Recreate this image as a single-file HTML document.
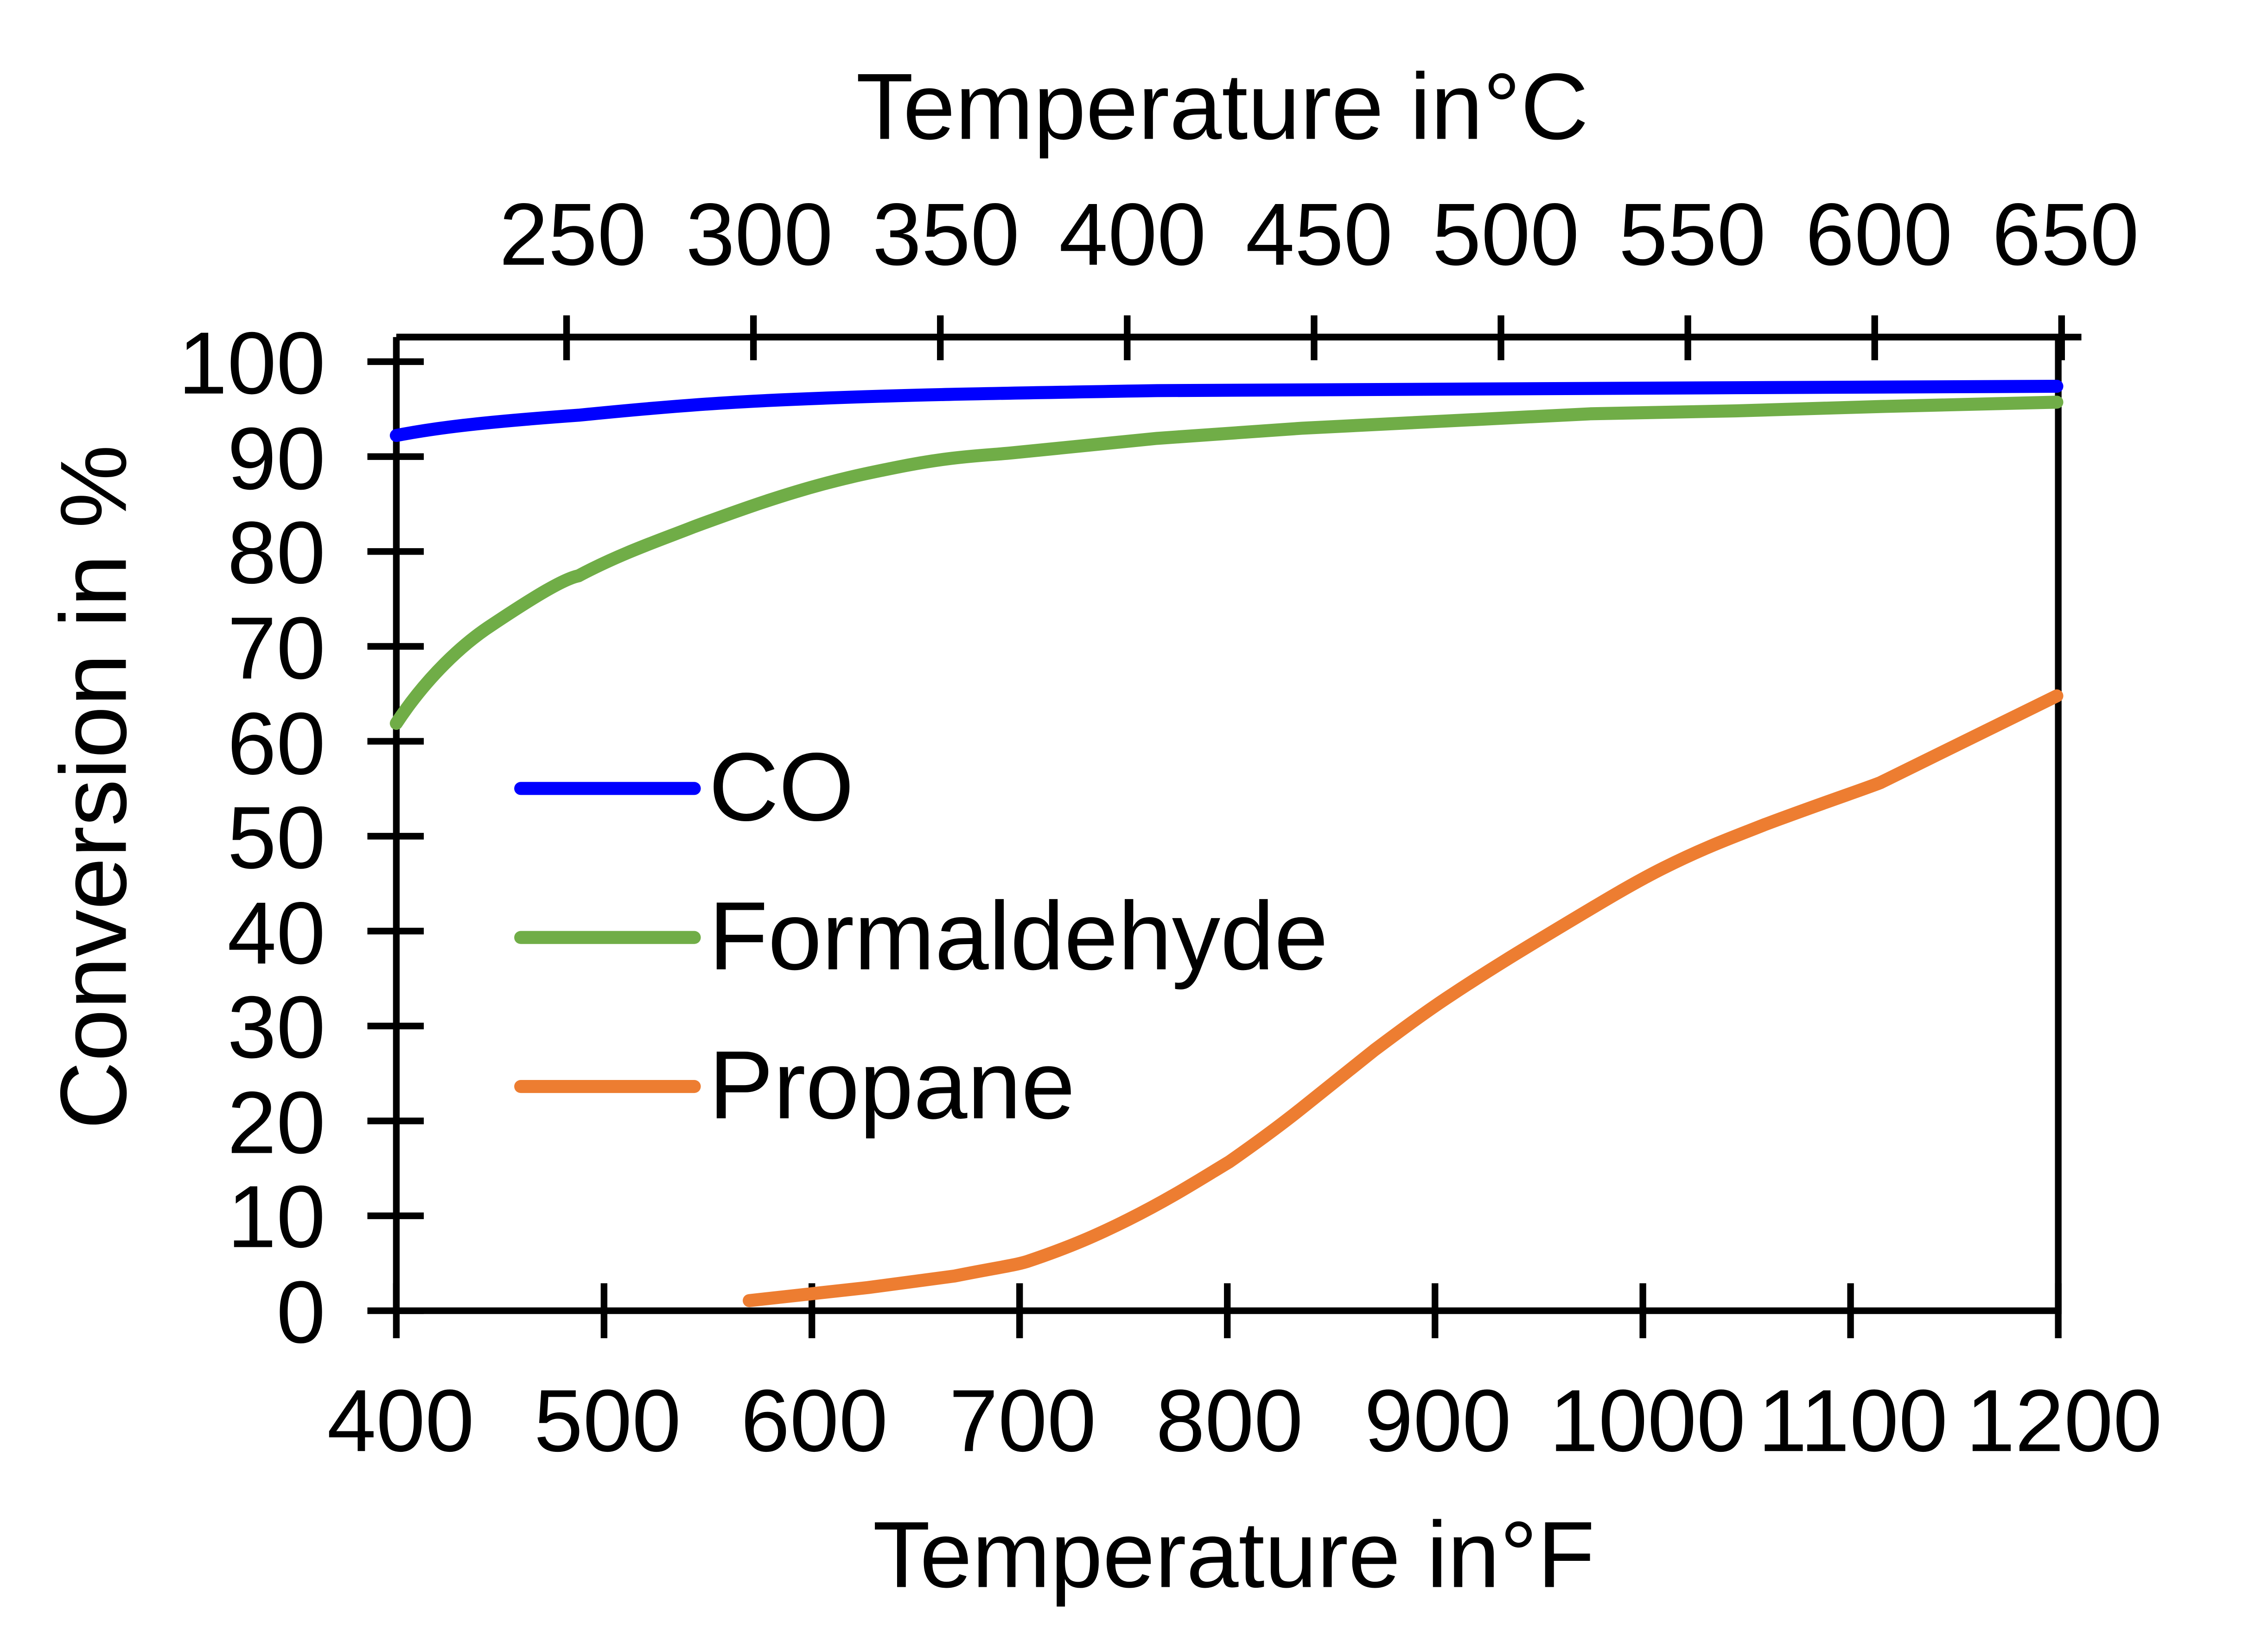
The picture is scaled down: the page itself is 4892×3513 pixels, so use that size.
<!DOCTYPE html>
<html><head><meta charset="utf-8"><style>html,body{margin:0;padding:0;background:#fff}svg{display:block}</style></head>
<body>
<svg width="4892" height="3513" viewBox="0 0 1568 1126" xmlns="http://www.w3.org/2000/svg" font-family="Liberation Sans, Arial, sans-serif" fill="#000">
<rect width="1568" height="1126" fill="#fff"/>
<g stroke="#000" stroke-width="4.6" fill="none">
<path d="M274,233 V906 H1423 V233 H274"/>
<path d="M274,233 H1439"/>
<path d="M254,906H293M254,840.4H293M254,774.8H293M254,709.2H293M254,643.6H293M254,578H293M254,512.4H293M254,446.8H293M254,381.2H293M254,315.6H293M254,250H293"/>
<path d="M274,887V925M417.6,887V925M561.3,887V925M704.9,887V925M848.5,887V925M992.1,887V925M1135.8,887V925M1279.4,887V925M1423,887V925"/>
<path d="M391.7,218V249M520.9,218V249M650.1,218V249M779.3,218V249M908.5,218V249M1037.7,218V249M1166.9,218V249M1296.1,218V249M1425.3,218V249"/>
</g>
<g font-size="61" text-anchor="end">
<text x="225" y="928">0</text><text x="225" y="862">10</text><text x="225" y="797">20</text><text x="225" y="731">30</text><text x="225" y="666">40</text><text x="225" y="600">50</text><text x="225" y="535">60</text><text x="225" y="469">70</text><text x="225" y="403">80</text><text x="225" y="338">90</text><text x="225" y="272">100</text>
</g>
<g font-size="61" text-anchor="middle">
<text x="277" y="1003">400</text><text x="420" y="1003">500</text><text x="563" y="1003">600</text><text x="707" y="1003">700</text><text x="850" y="1003">800</text><text x="994" y="1003">900</text><text x="1139" y="1003">1000</text><text x="1281" y="1003">1100</text><text x="1427" y="1003">1200</text>
<text x="396" y="183">250</text><text x="525" y="183">300</text><text x="654" y="183">350</text><text x="783" y="183">400</text><text x="912" y="183">450</text><text x="1041" y="183">500</text><text x="1170" y="183">550</text><text x="1299" y="183">600</text><text x="1428" y="183">650</text>
</g>
<text x="845" y="96" font-size="65" text-anchor="middle">Temperature in°C</text>
<text x="853" y="1097" font-size="65" text-anchor="middle">Temperature in°F</text>
<text transform="translate(87,544) rotate(-90)" font-size="65" text-anchor="middle">Conversion in %</text>
<g fill="none" stroke-width="9" stroke-linecap="round" stroke-linejoin="round">
<path stroke="#0000ff" d="M274,301 C300,296 330,292 400,287 C460,281 500,278 550,276 C620,273 680,272 800,270 L1000,269 L1200,268 L1422,267"/>
<path stroke="#70ad47" d="M274,500 C295,468 320,445 340,432 C370,412 390,400 400,398 C430,382 460,372 480,364 C510,353 530,346 550,340 C580,331 600,327 620,323 C660,315 680,315 700,313 L800,303 L900,296 L1000,291 L1100,286 L1200,284 L1300,281 L1422,278"/>
<path stroke="#ed7d31" d="M518,899 L600,890 L660,882 C690,876 700,875 710,872 C740,862 760,853 780,843 C810,828 830,815 850,803 C870,789 885,778 900,766 C920,750 935,738 950,726 C970,711 985,700 1000,690 C1030,670 1055,655 1080,640 C1110,622 1130,610 1150,600 C1180,585 1200,578 1220,570 C1260,555 1290,545 1300,541 L1422,481"/>
<path stroke="#0000ff" d="M360,545H480"/>
<path stroke="#70ad47" d="M360,648H480"/>
<path stroke="#ed7d31" d="M360,751H480"/>
</g>
<g font-size="67">
<text x="490" y="567">CO</text>
<text x="490" y="670">Formaldehyde</text>
<text x="490" y="773">Propane</text>
</g>
</svg>
</body></html>
